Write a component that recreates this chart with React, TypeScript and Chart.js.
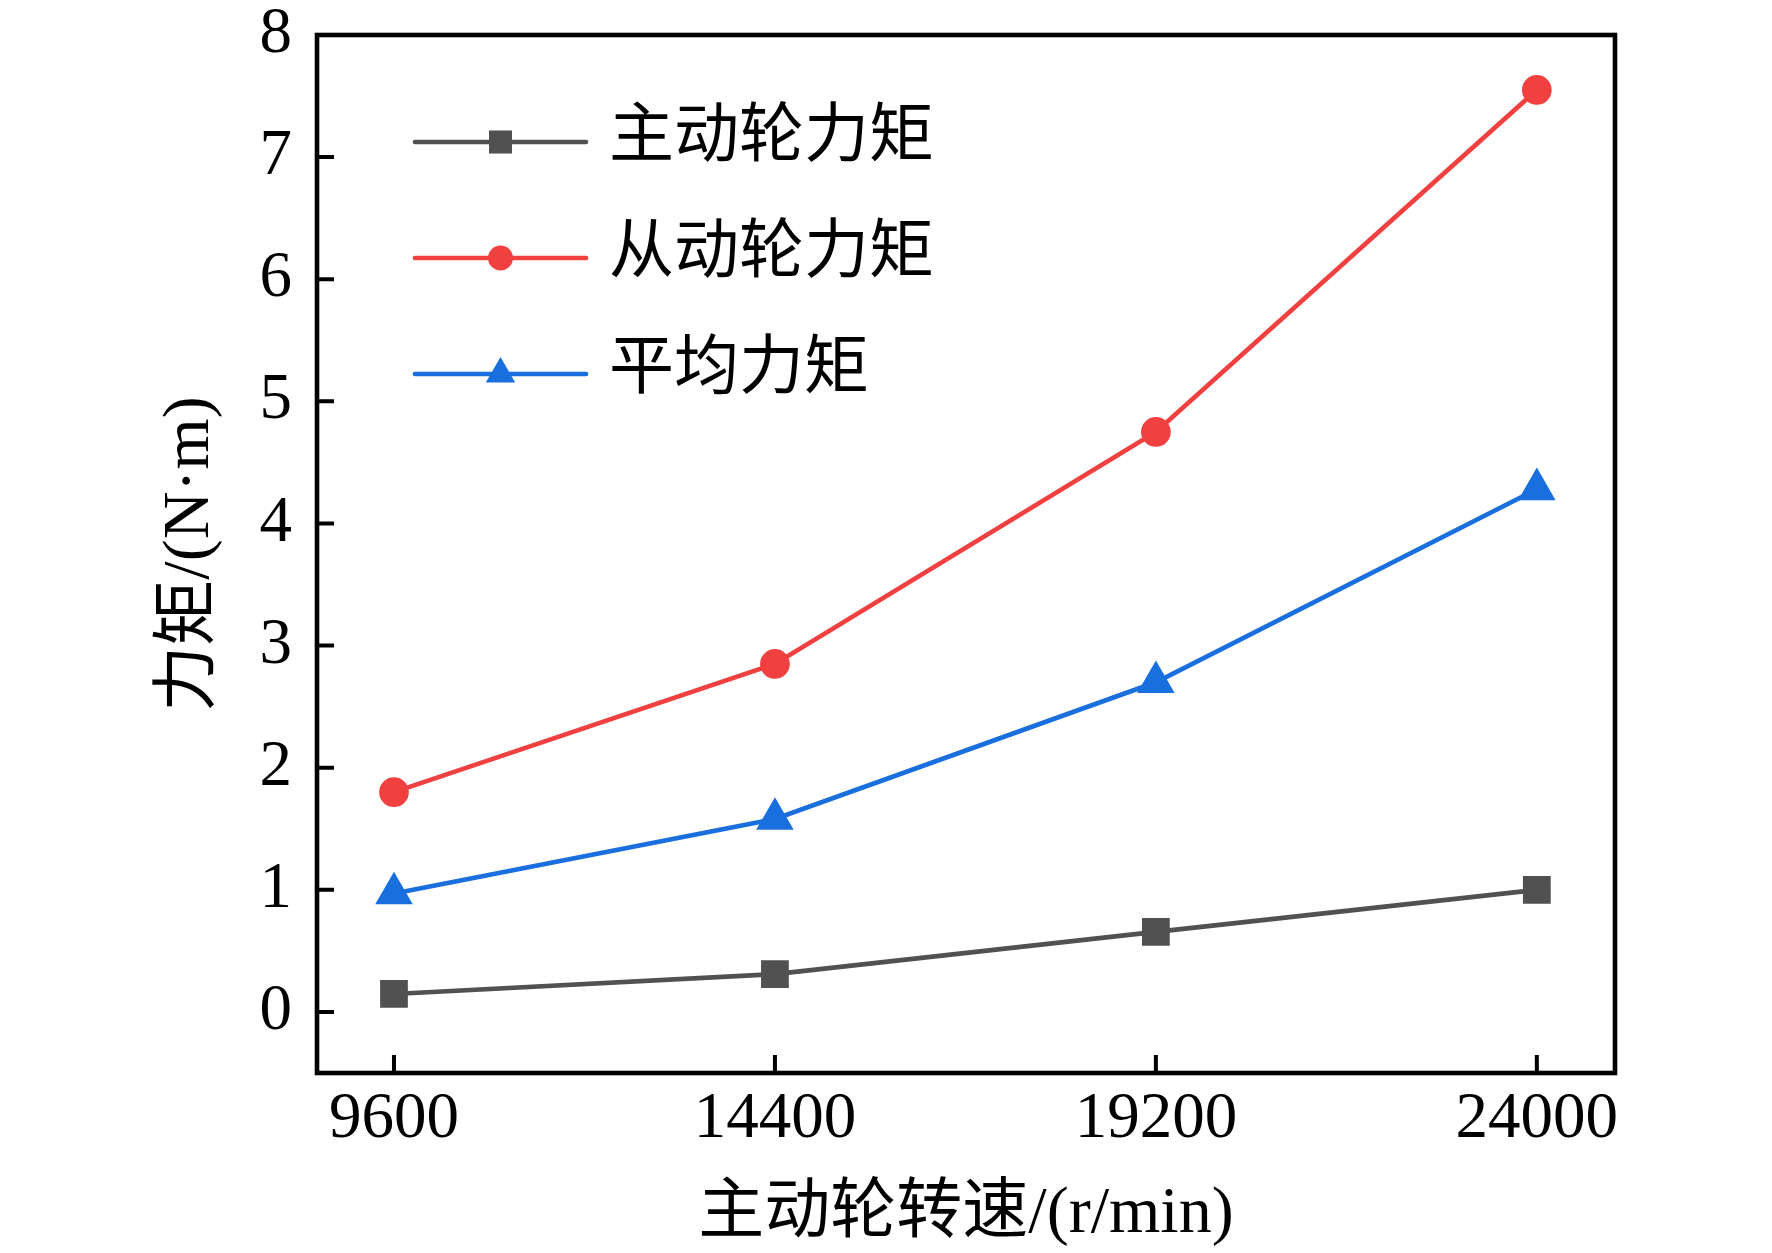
import { useEffect, useRef } from "react";
import { Chart, registerables } from "chart.js";
import { drawPoint } from "chart.js/helpers";

Chart.register(...registerables);

const speeds = [9600, 14400, 19200, 24000];
const driveTorque = [0.147, 0.31, 0.655, 1.0];
const drivenTorque = [1.8, 2.85, 4.75, 7.55];
const avgTorque = [0.97, 1.58, 2.7, 4.28];
const yTicks = [0, 1, 2, 3, 4, 5, 6, 7, 8];
const seriesNames = ["主动轮力矩", "从动轮力矩", "平均力矩"];

const serif = '"Liberation Serif", "Times New Roman", serif';
const mixed = '"Liberation Serif", "Noto Sans CJK SC", serif';

const toPoints = (vals: number[]) => speeds.map((s, i) => ({ x: s, y: vals[i] }));

// box around the plot with inward ticks
const framePlugin = {
  id: "frame",
  beforeDatasetsDraw(chart: any) {
    const { ctx, chartArea: a, scales } = chart;
    ctx.save();
    ctx.strokeStyle = "#000";
    ctx.lineWidth = 4.6;
    ctx.strokeRect(a.left, a.top, a.right - a.left, a.bottom - a.top);
    ctx.lineWidth = 4;
    ctx.beginPath();
    scales.x.ticks.forEach((t: any) => {
      const px = scales.x.getPixelForValue(t.value);
      ctx.moveTo(px, a.bottom);
      ctx.lineTo(px, a.bottom - 18);
    });
    scales.y.ticks.forEach((t: any) => {
      const py = scales.y.getPixelForValue(t.value);
      ctx.moveTo(a.left, py);
      ctx.lineTo(a.left + 17, py);
    });
    ctx.stroke();
    ctx.restore();
  },
};

// Origin-style legend: line with marker in the middle
const legendPlugin = {
  id: "innerLegend",
  afterDatasetsDraw(chart: any) {
    const { ctx, chartArea: a } = chart;
    ctx.save();
    chart.data.datasets.forEach((ds: any, i: number) => {
      const y = a.top + 107 + i * 116;
      const x0 = a.left + 98;
      const x1 = a.left + 269;
      ctx.strokeStyle = ds.borderColor;
      ctx.lineWidth = 4.7;
      ctx.lineCap = "round";
      ctx.beginPath();
      ctx.moveTo(x0, y);
      ctx.lineTo(x1, y);
      ctx.stroke();
      ctx.fillStyle = ds.pointBackgroundColor;
      drawPoint(
        ctx,
        { pointStyle: ds.pointStyle, radius: ds.pointRadius, borderWidth: 0, rotation: 0 },
        (x0 + x1) / 2,
        y
      );
      ctx.fillStyle = "#000";
      ctx.font = `65px ${mixed}`;
      ctx.textAlign = "left";
      ctx.textBaseline = "middle";
      ctx.fillText(ds.label, a.left + 292, y - 3);
    });
    ctx.restore();
  },
};

export default function App() {
  const canvasRef = useRef<HTMLCanvasElement>(null);

  useEffect(() => {
    document.body.style.margin = "0";
    if (!canvasRef.current) return;
    const chart = new Chart(canvasRef.current, {
      type: "line",
      data: {
        datasets: [
          {
            label: seriesNames[0],
            data: toPoints(driveTorque),
            borderColor: "#515151",
            backgroundColor: "#515151",
            pointBackgroundColor: "#515151",
            pointStyle: "rect",
            pointRadius: 16.3,
            borderWidth: 4.7,
          },
          {
            label: seriesNames[1],
            data: toPoints(drivenTorque),
            borderColor: "#F14040",
            backgroundColor: "#F14040",
            pointBackgroundColor: "#F14040",
            pointStyle: "circle",
            pointRadius: 12.5,
            borderWidth: 4.7,
          },
          {
            label: seriesNames[2],
            data: toPoints(avgTorque),
            borderColor: "#1A6FDF",
            backgroundColor: "#1A6FDF",
            pointBackgroundColor: "#1A6FDF",
            pointStyle: "triangle",
            pointRadius: 17,
            borderWidth: 4.7,
          },
        ],
      },
      options: {
        animation: false,
        responsive: false,
        devicePixelRatio: 1,
        layout: { padding: { left: 0, top: 35, right: 157, bottom: 0 } },
        elements: {
          point: { borderWidth: 0, hoverRadius: 0 },
          line: { tension: 0 },
        },
        plugins: {
          legend: { display: false },
          tooltip: { enabled: false },
        },
        scales: {
          x: {
            type: "linear",
            min: 8630,
            max: 24985,
            afterBuildTicks: (s: any) => {
              s.ticks = speeds.map((v) => ({ value: v }));
            },
            afterFit: (s: any) => {
              s.height = 180;
              s.paddingLeft = 0;
              s.paddingRight = 0;
            },
            grid: { display: false, drawTicks: false },
            border: { display: false },
            ticks: {
              padding: 14,
              color: "#000",
              maxRotation: 0,
              autoSkip: false,
              font: { family: serif, size: 65, lineHeight: 1 },
              callback: (v: any) => String(v),
            },
            title: {
              display: true,
              text: "主动轮转速/(r/min)",
              color: "#000",
              font: { family: mixed, size: 66, lineHeight: 1 },
              padding: { top: 0, bottom: 5 },
            },
          },
          y: {
            min: -0.5,
            max: 8,
            afterBuildTicks: (s: any) => {
              s.ticks = yTicks.map((v) => ({ value: v }));
            },
            afterFit: (s: any) => {
              s.width = 317;
              s.paddingTop = 0;
              s.paddingBottom = 0;
            },
            grid: { display: false, drawTicks: false },
            border: { display: false },
            ticks: {
              padding: 25,
              color: "#000",
              font: { family: serif, size: 65, lineHeight: 1 },
              callback: (v: any) => String(v),
            },
            title: {
              display: true,
              text: "力矩/(N·m)",
              color: "#000",
              font: { family: mixed, size: 66, lineHeight: 1 },
              padding: { top: 158, bottom: 0 },
            },
          },
        },
      },
      plugins: [framePlugin, legendPlugin],
    });
    return () => {
      chart.destroy();
    };
  }, []);

  return <canvas ref={canvasRef} width={1772} height={1253} style={{ display: "block" }} />;
}
